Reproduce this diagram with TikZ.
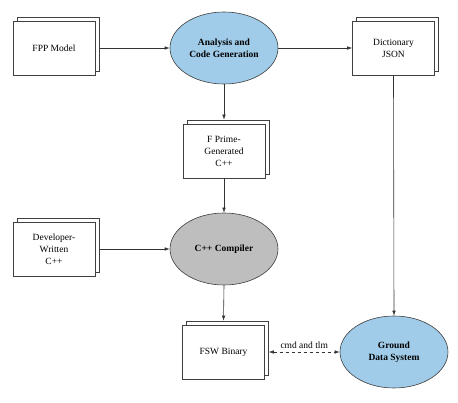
\documentclass[tikz,border=0pt]{standalone}
\usepackage{fontspec}
\setmainfont{Liberation Serif}
\usetikzlibrary{arrows.meta,shadows,shapes.geometric,positioning}
\definecolor{toolblue}{RGB}{160,204,234}
\definecolor{toolgray}{RGB}{190,190,190}
\tikzset{
  filebox/.style={
    draw=black!75, fill=white, line width=0.6pt,
    minimum width=82pt, minimum height=54pt,
    align=center, font=\fontsize{9.5}{12}\selectfont,
    copy shadow={shadow xshift=4pt, shadow yshift=4pt,
      draw=black!75, fill=white, line width=0.6pt}
  },
  toolnode/.style={
    ellipse, draw=black!75, line width=0.6pt,
    minimum width=108pt, minimum height=72pt, inner sep=0pt,
    align=center, font=\fontsize{9.5}{12}\selectfont\bfseries
  },
  flow/.style={-{Latex[length=5pt,width=3.5pt]}, draw=black!80, line width=0.6pt}
}
\begin{document}
\begin{tikzpicture}[x=1pt,y=-1pt]
\useasboundingbox (0,0) rectangle (458,403);

% inputs and generated files
\node[filebox] (fpp) at (54,48) {FPP Model};
\node[filebox] (dict) at (393.5,48) {Dictionary\\JSON};
\node[filebox] (fprime) at (224,151) {F Prime-\\Generated\\C++};
\node[filebox] (dev) at (54,249) {Developer-\\Written\\C++};
\node[filebox] (fsw) at (223.5,352) {FSW Binary};

% tools
\node[toolnode, fill=toolblue] (fppto) at (224,48) {Analysis and\\Code Generation};
\node[toolnode, fill=toolgray] (cxx) at (224,249) {C++ Compiler};
\node[toolnode, fill=toolblue] (gds) at (394,352) {Ground\\Data System};

% connectors
\draw[flow] ([xshift=4pt]fpp.east) -- (fppto.west);
\draw[flow] (fppto.east) -- (dict.west);
\draw[flow] (fppto.south) -- ([yshift=4pt]fprime.north);
\draw[flow] (fprime.south) -- (cxx.north);
\draw[flow] ([xshift=4pt]dev.east) -- (cxx.west);
\draw[flow] (cxx.south) -- ([yshift=4pt]fsw.north);
\draw[flow] (dict.south) -- (gds.north);
\draw[flow, {Latex[length=5pt,width=3.5pt]}-{Latex[length=5pt,width=3.5pt]}, dashed]
  ([xshift=4pt]fsw.east) -- node[above, font=\fontsize{9.5}{12}\selectfont] {cmd and tlm} (gds.west);

\end{tikzpicture}
\end{document}
